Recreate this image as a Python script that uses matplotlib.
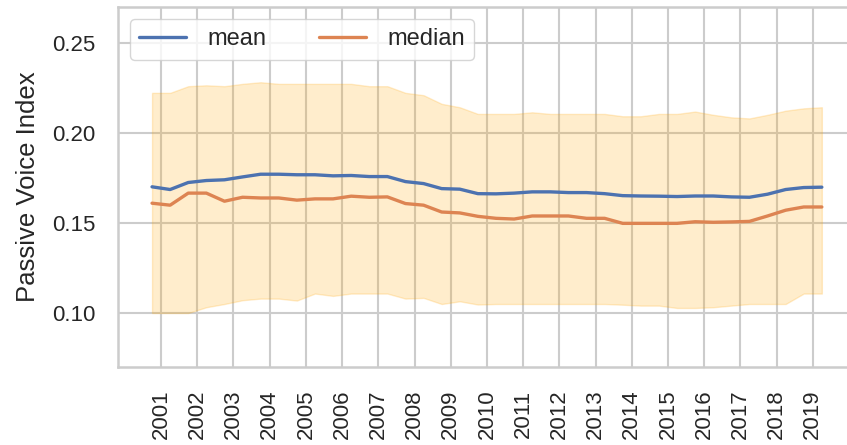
import numpy as np
import matplotlib
matplotlib.use("Agg")
import matplotlib.pyplot as plt
import seaborn as sns

sns.set_theme(style="whitegrid")
plt.rcParams['font.family'] = ['Liberation Sans', 'DejaVu Sans']

# half-year periods
periods = [2000.75, 2001.25, 2001.75, 2002.25, 2002.75, 2003.25, 2003.75, 2004.25,
           2004.75, 2005.25, 2005.75, 2006.25, 2006.75, 2007.25, 2007.75, 2008.25,
           2008.75, 2009.25, 2009.75, 2010.25, 2010.75, 2011.25, 2011.75, 2012.25,
           2012.75, 2013.25, 2013.75, 2014.25, 2014.75, 2015.25, 2015.75, 2016.25,
           2016.75, 2017.25, 2017.75, 2018.25, 2018.75, 2019.25]

mean = [0.1701, 0.1686, 0.1725, 0.1736, 0.1740, 0.1756, 0.1771, 0.1771, 0.1768, 0.1768,
        0.1762, 0.1764, 0.1758, 0.1758, 0.1730, 0.1719, 0.1691, 0.1688, 0.1663, 0.1662,
        0.1666, 0.1673, 0.1673, 0.1669, 0.1669, 0.1663, 0.1652, 0.1650, 0.1649, 0.1647,
        0.1650, 0.1650, 0.1645, 0.1643, 0.1660, 0.1686, 0.1697, 0.1699]

median = [0.1610, 0.1599, 0.1666, 0.1666, 0.1621, 0.1643, 0.1639, 0.1639, 0.1627, 0.1634,
          0.1634, 0.1649, 0.1643, 0.1645, 0.1608, 0.1599, 0.1561, 0.1556, 0.1537, 0.1526,
          0.1522, 0.1539, 0.1539, 0.1539, 0.1526, 0.1526, 0.1498, 0.1498, 0.1498, 0.1498,
          0.1507, 0.1504, 0.1506, 0.1509, 0.1539, 0.1571, 0.1589, 0.1589]

upper = [0.2223, 0.2223, 0.2260, 0.2265, 0.2260, 0.2273, 0.2282, 0.2273, 0.2273, 0.2273,
         0.2273, 0.2273, 0.2260, 0.2260, 0.2223, 0.2210, 0.2162, 0.2143, 0.2106, 0.2106,
         0.2106, 0.2115, 0.2106, 0.2106, 0.2106, 0.2106, 0.2093, 0.2093, 0.2106, 0.2106,
         0.2119, 0.2101, 0.2087, 0.2081, 0.2101, 0.2124, 0.2137, 0.2143]

lower = [0.1000, 0.1000, 0.1000, 0.1032, 0.1050, 0.1071, 0.1080, 0.1080, 0.1069, 0.1108,
         0.1095, 0.1108, 0.1108, 0.1108, 0.1080, 0.1084, 0.1050, 0.1065, 0.1047, 0.1050,
         0.1050, 0.1050, 0.1050, 0.1050, 0.1050, 0.1050, 0.1046, 0.1041, 0.1041, 0.1028,
         0.1028, 0.1032, 0.1041, 0.1050, 0.1050, 0.1050, 0.1108, 0.1108]

years = list(range(2001, 2020))

fig = plt.figure(figsize=(8.47, 4.45), dpi=100)
ax = fig.add_axes([118/847, 78/445, 731/847, 360/445])

ax.fill_between(periods, lower, upper, color='orange', alpha=0.2)
ax.plot(periods, mean, color='#4C72B0', lw=2.4, label='mean')
ax.plot(periods, median, color='#DD8452', lw=2.4, label='median')

ax.set_xlim(1999.81, 2020)
ax.set_ylim(0.07, 0.27)
ax.set_yticks([0.10, 0.15, 0.20, 0.25])
ax.set_yticklabels(['0.10', '0.15', '0.20', '0.25'])
ax.set_xticks(years)
ax.set_xticklabels([str(y) for y in years], rotation=90, va='center')
ax.tick_params(axis='x', length=0, pad=34, labelsize=16)
ax.tick_params(axis='y', length=0, pad=16, labelsize=16)
ax.set_ylabel('Passive Voice Index', fontsize=18.5, labelpad=9)
ax.grid(True, color='#cccccc', lw=1.5)
for s in ax.spines.values():
    s.set_color('#cccccc')
    s.set_linewidth(1.8)

ax.legend(loc='upper left', ncol=2, fontsize=17, handletextpad=0.9, columnspacing=2.2)

fig.savefig('out.png', dpi=100)
